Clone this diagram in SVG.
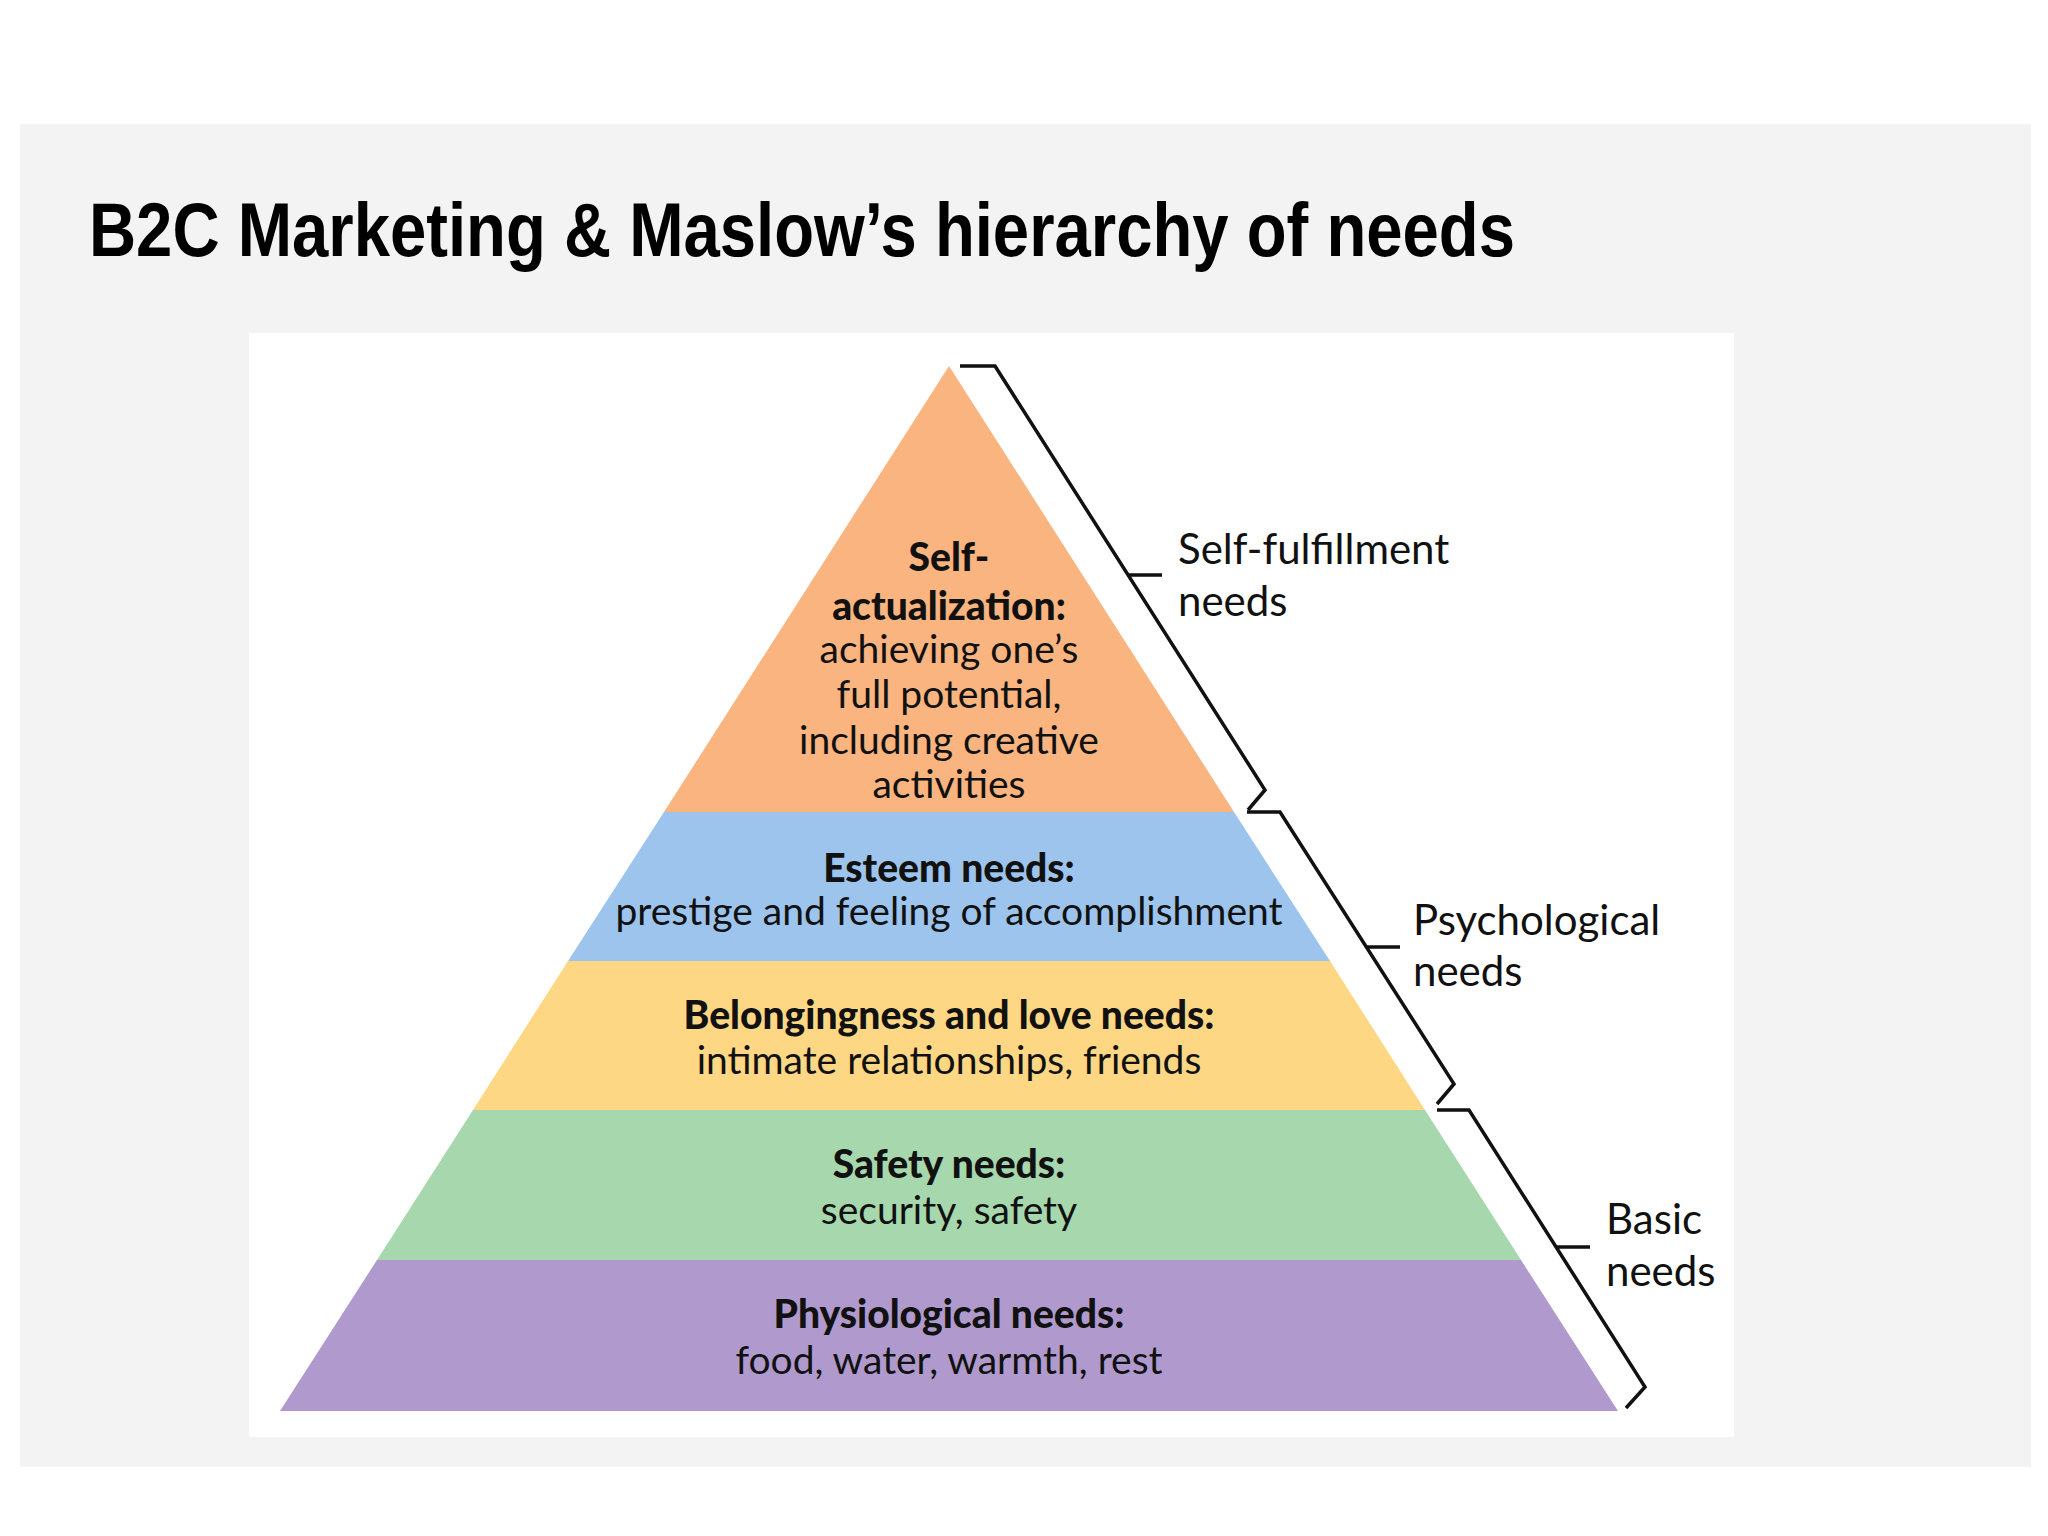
<svg xmlns="http://www.w3.org/2000/svg" width="2048" height="1536" viewBox="0 0 2048 1536">
<style>
.t{font-family:"Lato","Noto Sans",sans-serif;font-size:39px;fill:#111;text-anchor:middle}
.b{font-weight:900}
.s{font-family:"Lato","Noto Sans",sans-serif;font-size:42px;fill:#111}
.br{fill:none;stroke:#111;stroke-width:3.5}
</style>
<rect width="2048" height="1536" fill="#fff"/>
<rect x="20" y="124" width="2011" height="1343" fill="#f3f3f3"/>
<rect x="249" y="333" width="1485" height="1104" fill="#fff"/>
<text x="89" y="256" font-family="Liberation Sans,Arial,sans-serif" font-weight="bold" font-size="76" textLength="1426" lengthAdjust="spacingAndGlyphs" fill="#000">B2C Marketing &amp; Maslow’s hierarchy of needs</text>
<g id="self"><polygon points="949,366 664,812 1234,812" fill="#F9B47F"/>
<text class="t b" x="949" y="571">Self-</text><text class="t b" x="949" y="620">actualization:</text>
<text class="t" x="949" y="663">achieving one’s</text><text class="t" x="949" y="708">full potential,</text>
<text class="t" x="949" y="754">including creative</text><text class="t" x="949" y="798">activities</text></g>
<g id="esteem"><polygon points="664,812 1234,812 1330,961 568,961" fill="#9CC4EC"/>
<text class="t b" x="949" y="882">Esteem needs:</text><text class="t" x="949" y="925">prestige and feeling of accomplishment</text></g>
<g id="belong"><polygon points="568,961 1330,961 1425,1110 473,1110" fill="#FDD783"/>
<text class="t b" x="949" y="1029">Belongingness and love needs:</text><text class="t" x="949" y="1074">intimate relationships, friends</text></g>
<g id="safety"><polygon points="473,1110 1425,1110 1521,1260 377,1260" fill="#A6D7AD"/>
<text class="t b" x="949" y="1178">Safety needs:</text><text class="t" x="949" y="1224">security, safety</text></g>
<g id="phys"><polygon points="377,1260 1521,1260 1618,1411 280,1411" fill="#B09ACD"/>
<text class="t b" x="949" y="1328">Physiological needs:</text><text class="t" x="949" y="1374">food, water, warmth, rest</text></g>
<g id="connectors">
<path class="br" d="M960 366 L995 366 L1265 790 L1248 810 M1128 575 L1162 575"/>
<path class="br" d="M1247 812 L1280 812 L1454 1084 L1437 1104 M1366 947 L1400 947"/>
<path class="br" d="M1437 1110 L1469 1110 L1645 1387 L1626 1408 M1556 1247 L1590 1247"/>
</g>
<g id="labels">
<text class="s" x="1178" y="564">Self-fulfillment</text><text class="s" x="1178" y="616">needs</text>
<text class="s" x="1413" y="935">Psychological</text><text class="s" x="1413" y="986">needs</text>
<text class="s" x="1606" y="1234">Basic</text><text class="s" x="1606" y="1286">needs</text>
</g>
</svg>
